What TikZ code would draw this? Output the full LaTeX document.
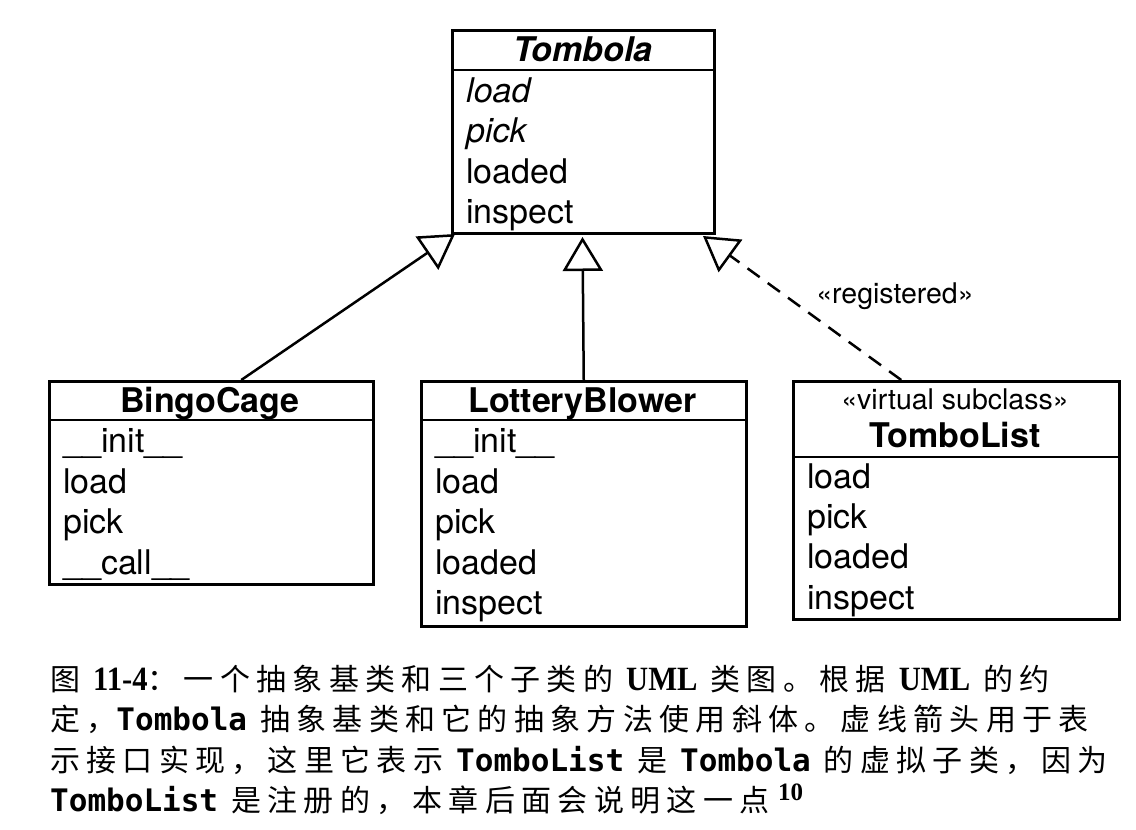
\documentclass[tikz,border=0pt]{standalone}
\usepackage{fontspec}
\setmainfont{TeX Gyre Heros}
\newfontfamily\cjk[LetterSpace=21]{Noto Sans CJK SC}
\newfontfamily\bserif{Liberation Serif}
\newfontfamily\cmono{DejaVu Sans Mono}
\usetikzlibrary{arrows.meta}
\newcommand{\lat}[1]{{\bserif\bfseries\fontsize{34}{34}\selectfont\scalebox{0.9}[1]{#1}}}
\newcommand{\cde}[1]{{\cmono\bfseries\fontsize{31}{31}\selectfont #1}}
\begin{document}
\begin{tikzpicture}[x=1pt,y=-1pt,
  umlbox/.style={draw, line width=2.5pt, inner sep=0pt, anchor=north west},
  divider/.style={line width=2.5pt},
  title/.style={font=\fontsize{34}{34}\selectfont\bfseries, anchor=base, inner sep=0pt},
  stereo/.style={font=\fontsize{28.5}{28.5}\selectfont, anchor=base, inner sep=0pt},
  row/.style={font=\fontsize{34}{34}\selectfont, anchor=base west, inner sep=0pt},
  inh/.style={line width=2.5pt, -{Triangle[open, length=34pt, width=40pt]}},
  captext/.style={font=\cjk\fontsize{30}{30}\selectfont, anchor=base west, inner sep=0pt}]
\useasboundingbox[fill=white] (0,0) rectangle (1136,830);

% Tombola
\node[umlbox, minimum width=262pt, minimum height=203pt] (tombola) at (451,29) {};
\draw[divider] (tombola.west |- 0,70) -- (tombola.east |- 0,70);
\node[title, font=\fontsize{34}{34}\selectfont\bfseries\itshape] (tt) at (583,61) {Tombola};
\node[row, font=\fontsize{34}{34}\selectfont\itshape] (t1) at (466,102) {load};
\node[row, font=\fontsize{34}{34}\selectfont\itshape] (t2) at (466,142) {pick};
\node[row] (t3) at (466,183) {loaded};
\node[row] (t4) at (466,223) {inspect};

% BingoCage
\node[umlbox, minimum width=324pt, minimum height=203pt] (bingo) at (48,380) {};
\draw[divider] (bingo.west |- 0,420) -- (bingo.east |- 0,420);
\node[title] (bt) at (210,412) {BingoCage};
\node[row] (b1) at (63,452) {\_\_init\_\_};
\node[row] (b2) at (63,493) {load};
\node[row] (b3) at (63,533) {pick};
\node[row] (b4) at (63,574) {\_\_call\_\_};

% LotteryBlower
\node[umlbox, minimum width=325pt, minimum height=245pt] (lottery) at (420,380) {};
\draw[divider] (lottery.west |- 0,420) -- (lottery.east |- 0,420);
\node[title] (lt) at (582.5,412) {LotteryBlower};
\node[row] (l1) at (435,452) {\_\_init\_\_};
\node[row] (l2) at (435,493) {load};
\node[row] (l3) at (435,533) {pick};
\node[row] (l4) at (435,574) {loaded};
\node[row] (l5) at (435,614) {inspect};

% TomboList
\node[umlbox, minimum width=326pt, minimum height=238pt] (tombolist) at (792,380) {};
\draw[divider] (tombolist.west |- 0,457) -- (tombolist.east |- 0,457);
\node[stereo] (ls) at (955,409) {«virtual subclass»};
\node[title] (lt2) at (955,447) {TomboList};
\node[row] (m1) at (807,488) {load};
\node[row] (m2) at (807,528) {pick};
\node[row] (m3) at (807,568) {loaded};
\node[row] (m4) at (807,609) {inspect};

% connectors
\coordinate (tipL) at (455,234);
\coordinate (tipM) at (582.5,237);
\coordinate (tipR) at (703,236);
\draw[inh] ([xshift=30pt]bingo.north) -- (tipL);
\draw[inh] (lottery.north) -- (tipM);
\draw[inh, dash pattern=on 15pt off 10pt] ([xshift=-55pt]tombolist.north) -- (tipR);
\node[stereo] (reg) at (895,303) {«registered»};

% caption
\node[captext] (c1) at (50,690) {图 \lat{11-4}：一个抽象基类和三个子类的 \lat{UML} 类图。根据 \lat{UML} 的约};
\node[captext] (c2) at (50,730) {定，\cde{Tombola} 抽象基类和它的抽象方法使用斜体。虚线箭头用于表};
\node[captext] (c3) at (50,771) {示接口实现，这里它表示 \cde{TomboList} 是 \cde{Tombola} 的虚拟子类，因为};
\node[captext] (c4) at (50,811) {\cde{TomboList} 是注册的，本章后面会说明这一点};
\node[anchor=base west, inner sep=0pt, font=\bserif\bfseries\fontsize{25}{25}\selectfont] (c5) at (778,800) {10};
\end{tikzpicture}
\end{document}
